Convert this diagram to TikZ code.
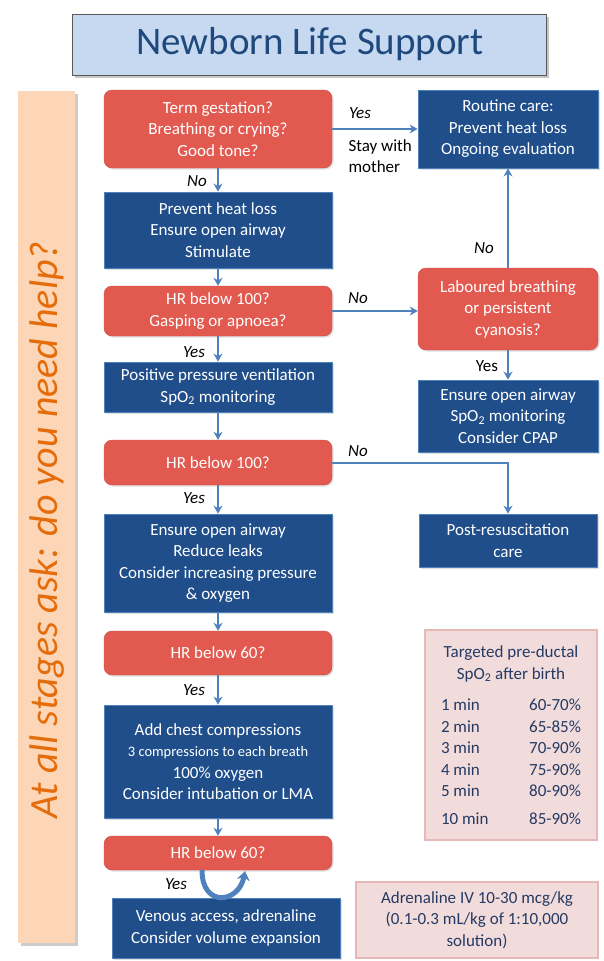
\documentclass[tikz,border=0pt]{standalone}
\usepackage{fontspec}
\setmainfont{Carlito}
\usepackage{xcolor}
\usetikzlibrary{positioning}
\usetikzlibrary{arrows.meta,shadows}

\definecolor{nlsred}{RGB}{226,89,79}
\definecolor{nlsblue}{RGB}{31,78,139}
\definecolor{nlsedge}{RGB}{79,129,189}
\definecolor{nlsnavy}{RGB}{36,58,100}
\definecolor{titlefill}{RGB}{198,217,241}
\definecolor{titletext}{RGB}{31,73,125}
\definecolor{barfill}{RGB}{252,214,182}
\definecolor{bartext}{RGB}{228,108,10}
\definecolor{pinkfill}{RGB}{242,220,219}
\definecolor{pinkedge}{RGB}{230,185,184}

\tikzset{
    bodyfont/.style={font=\fontsize{17}{21.5}\selectfont},
    redbox/.style={bodyfont, fill=nlsred, draw=nlsred!90!black, rounded corners=8pt,
        text=white, align=center, minimum width=228pt, inner sep=2pt,
        drop shadow={opacity=0.25, shadow xshift=1.5pt, shadow yshift=-1.5pt}},
    bluebox/.style={bodyfont, fill=nlsblue, draw=nlsedge, line width=0.8pt,
        text=white, align=center, minimum width=228pt, inner sep=2pt,
        drop shadow={opacity=0.25, shadow xshift=1.5pt, shadow yshift=-1.5pt}},
    pinkbox/.style={bodyfont, fill=pinkfill, draw=pinkedge, line width=1.5pt,
        text=nlsnavy, align=center, inner sep=2pt},
    flow/.style={draw=nlsedge, line width=2pt, -{Stealth[length=8pt,width=9pt]}},
    answer/.style={font=\fontsize{17}{21.5}\selectfont\itshape},
    plain/.style={bodyfont},
}

\begin{document}
\begin{tikzpicture}[x=1pt,y=-1pt]
    \useasboundingbox (0,0) rectangle (603,961);

    % Title and side bar
    \node[fill=titlefill, draw=gray!70!black, line width=0.8pt, minimum width=474pt, minimum height=61pt,
        drop shadow={opacity=0.45, shadow xshift=3pt, shadow yshift=-3pt}] (title) at (309,44.5) {};
    \node[text=titletext, font=\fontsize{39}{42}\selectfont] (titletxt) at (310,44) {Newborn Life Support};
    \node[fill=barfill, minimum width=57pt, minimum height=852pt,
        drop shadow={opacity=0.4, shadow xshift=3pt, shadow yshift=-3pt}] (bar) at (46,517) {};
    \node[rotate=90, text=bartext, font=\fontsize{40}{44}\selectfont\itshape] (help) at (47,530)
        {At all stages ask: do you need help?};

    % Left column
    \node[redbox, minimum height=78pt] (gest) at (218,129)
        {Term gestation?\\Breathing or crying?\\Good tone?};
    \node[bluebox, minimum height=76pt] (warm) at (218,230)
        {Prevent heat loss\\Ensure open airway\\Stimulate};
    \node[redbox, minimum height=50pt] (hrone) at (218,311)
        {HR below 100?\\Gasping or apnoea?};
    \node[bluebox, minimum height=50pt] (ppv) at (218,387)
        {Positive pressure ventilation\\SpO\textsubscript{2} monitoring};
    \node[redbox, minimum height=45pt] (hrtwo) at (218,462.5) {HR below 100?};
    \node[bluebox, minimum height=98pt] (airway) at (218,563)
        {Ensure open airway\\Reduce leaks\\Consider increasing pressure\\\& oxygen};
    \node[redbox, minimum height=44pt] (hrthree) at (218,653) {HR below 60?};
    \node[bluebox, minimum height=113pt] (cpr) at (218,761.5)
        {Add chest compressions\\{\fontsize{14.5}{21}\selectfont 3 compressions to each breath}\\100\% oxygen\\Consider intubation or LMA};
    \node[redbox, minimum height=34pt] (hrfour) at (218,853) {HR below 60?};
    \node[bluebox, minimum height=60pt] (drugs) at (226,928)
        {Venous access, adrenaline\\Consider volume expansion};

    % Right column
    \node[bluebox, minimum width=180pt, minimum height=78pt] (routine) at (508,129)
        {Routine care:\\Prevent heat loss\\Ongoing evaluation};
    \node[redbox, minimum width=180pt, minimum height=82pt] (labour) at (508,309)
        {Laboured breathing\\or persistent\\cyanosis?};
    \node[bluebox, minimum width=180pt, minimum height=72pt] (cpap) at (508,416)
        {Ensure open airway\\SpO\textsubscript{2} monitoring\\Consider CPAP};
    \node[bluebox, minimum width=178pt, minimum height=53pt] (postcare) at (508,540.5)
        {Post-resuscitation\\care};
    \node[pinkbox, minimum width=172pt, minimum height=210pt] (spotable) at (511,735)
        {Targeted pre-ductal\\SpO\textsubscript{2} after birth\\[10pt]
         \makebox[140pt]{1 min\hfill 60-70\%}\\
         \makebox[140pt]{2 min\hfill 65-85\%}\\
         \makebox[140pt]{3 min\hfill 70-90\%}\\
         \makebox[140pt]{4 min\hfill 75-90\%}\\
         \makebox[140pt]{5 min\hfill 80-90\%}\\[6pt]
         \makebox[140pt]{10 min\hfill 85-90\%}};
    \node[pinkbox, minimum width=242pt, minimum height=76pt] (adren) at (477,920)
        {Adrenaline IV 10-30 mcg/kg\\(0.1-0.3 mL/kg of 1:10,000\\solution)};

    % Arrows
    \draw[flow] (gest) -- (warm);
    \draw[flow] (gest) -- (routine);
    \draw[flow] (warm) -- (hrone);
    \draw[flow] (hrone.east) -- (hrone.east -| labour.west);
    \draw[flow] (labour) -- (routine);
    \draw[flow] (labour) -- (cpap);
    \draw[flow] (hrone) -- (ppv);
    \draw[flow] (ppv) -- (hrtwo);
    \draw[flow] (hrtwo.east) -| (postcare.north);
    \draw[flow] (hrtwo) -- (airway);
    \draw[flow] (airway) -- (hrthree);
    \draw[flow] (hrthree) -- (cpr);
    \draw[flow] (cpr) -- (hrfour);
    \draw[draw=nlsedge, line width=5pt, -{Stealth[length=9pt,width=13pt]}]
        ([xshift=-16pt]hrfour.south) .. controls +(0,38) and +(-6,32) .. ([xshift=27pt,yshift=-1pt]hrfour.south);

    % Answers
    \node[answer] (no1) at (197,181) {No};
    \node[answer] (yes1) at (360,113) {Yes};
    \node[plain, align=left, anchor=west] (stay) at (345,156) {Stay with\\mother};
    \node[answer] (no2) at (484,248) {No};
    \node[answer] (no3) at (358,298) {No};
    \node[plain] (yes2) at (487,366) {Yes};
    \node[answer] (yes3) at (194,352) {Yes};
    \node[answer] (no4) at (358,451) {No};
    \node[answer] (yes4) at (194,498) {Yes};
    \node[answer] (yes5) at (194,690) {Yes};
    \node[answer] (yes6) at (176,884) {Yes};
\end{tikzpicture}
\end{document}
